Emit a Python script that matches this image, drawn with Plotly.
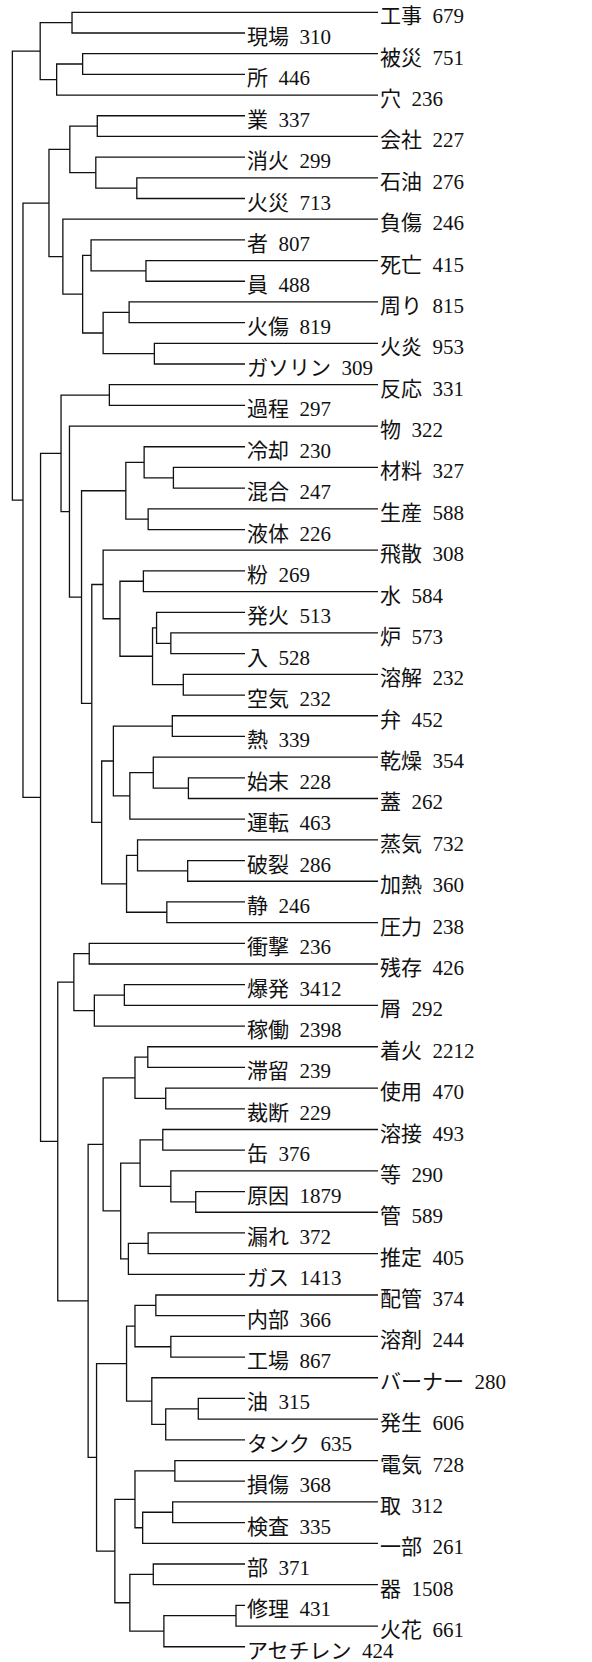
import plotly.graph_objects as go

# Leaf words (top to bottom) and their occurrence counts
words = [
    "工事", "現場", "被災", "所", "穴", "業", "会社", "消火", "石油", "火災",
    "負傷", "者", "死亡", "員", "周り", "火傷", "火炎", "ガソリン", "反応", "過程",
    "物", "冷却", "材料", "混合", "生産", "液体", "飛散", "粉", "水", "発火",
    "炉", "入", "溶解", "空気", "弁", "熱", "乾燥", "始末", "蓋", "運転",
    "蒸気", "破裂", "加熱", "静", "圧力", "衝撃", "残存", "爆発", "屑", "稼働",
    "着火", "滞留", "使用", "裁断", "溶接", "缶", "等", "原因", "管", "漏れ",
    "推定", "ガス", "配管", "内部", "溶剤", "工場", "バーナー", "油", "発生", "タンク",
    "電気", "損傷", "取", "検査", "一部", "部", "器", "修理", "火花", "アセチレン",
]
counts = [
    679, 310, 751, 446, 236, 337, 227, 299, 276, 713,
    246, 807, 415, 488, 815, 819, 953, 309, 331, 297,
    322, 230, 327, 247, 588, 226, 308, 269, 584, 513,
    573, 528, 232, 232, 452, 339, 354, 228, 262, 463,
    732, 286, 360, 246, 238, 236, 426, 3412, 292, 2398,
    2212, 239, 470, 229, 493, 376, 290, 1879, 589, 372,
    405, 1413, 374, 366, 244, 867, 280, 315, 606, 635,
    728, 368, 312, 335, 261, 371, 1508, 431, 661, 424,
]

# Linkage table: merge k joins merge_a[k] and merge_b[k] into node 80 + k
merge_a = [
    0, 2, 81, 80, 5, 8, 7, 84, 12, 11,
    14, 16, 90, 89, 10, 87, 18, 22, 21, 24,
    98, 27, 30, 29, 32, 103, 101, 26, 34, 37,
    36, 110, 108, 41, 40, 43, 114, 112, 107, 100,
    20, 96, 45, 47, 123, 122, 50, 52, 126, 54,
    57, 56, 129, 59, 133, 132, 128, 62, 64, 137,
    67, 140, 66, 139, 70, 72, 145, 144, 75, 77,
    149, 148, 147, 143, 136, 125, 121, 95, 83,
]
merge_b = [
    1, 3, 4, 82, 6, 9, 85, 86, 13, 88,
    15, 17, 91, 92, 93, 94, 19, 23, 97, 25,
    99, 28, 31, 102, 33, 104, 105, 106, 35, 38,
    109, 39, 111, 42, 113, 44, 115, 116, 117, 118,
    119, 120, 46, 48, 49, 124, 51, 53, 127, 55,
    58, 130, 131, 60, 61, 134, 135, 63, 65, 138,
    68, 69, 141, 142, 71, 73, 74, 146, 76, 78,
    79, 150, 151, 152, 153, 154, 155, 156, 157,
]
merge_height = [
    0.836, 0.807, 0.878, 0.923, 0.767, 0.659, 0.771, 0.842, 0.634, 0.784,
    0.680, 0.611, 0.751, 0.807, 0.861, 0.899, 0.734, 0.559, 0.639, 0.628,
    0.689, 0.641, 0.566, 0.605, 0.532, 0.616, 0.705, 0.751, 0.562, 0.518,
    0.614, 0.678, 0.723, 0.520, 0.657, 0.577, 0.687, 0.755, 0.782, 0.810,
    0.843, 0.866, 0.789, 0.693, 0.775, 0.831, 0.629, 0.580, 0.664, 0.588,
    0.498, 0.566, 0.650, 0.628, 0.682, 0.703, 0.751, 0.607, 0.566, 0.664,
    0.491, 0.580, 0.618, 0.687, 0.555, 0.561, 0.643, 0.664, 0.614, 0.388,
    0.585, 0.678, 0.719, 0.769, 0.792, 0.875, 0.922, 0.970, 0.999,
]

# Leaves alternate between two label columns so the labels do not collide
INNER_COLUMN = 0.3634
n = len(words)
node_x = {i: (0.0 if i % 2 == 0 else INNER_COLUMN) for i in range(n)}
node_y = {i: float(i) for i in range(n)}

xs, ys = [], []
for k, (a, b, h) in enumerate(zip(merge_a, merge_b, merge_height)):
    ya, yb = node_y[a], node_y[b]
    xs += [node_x[a], h, h, node_x[b], None]
    ys += [ya, ya, yb, yb, None]
    node_x[n + k] = h
    node_y[n + k] = (ya + yb) / 2

fig = go.Figure()
fig.add_trace(go.Scatter(
    x=xs, y=ys, mode="lines",
    line=dict(color="#111111", width=1.3),
    hoverinfo="skip", showlegend=False,
))

label_font = dict(family="Liberation Serif, Noto Sans CJK JP, serif", size=21, color="#111111")
for i, (w, c) in enumerate(zip(words, counts)):
    fig.add_annotation(
        x=node_x[i], y=i, text=f"{w}\u2002{c}",
        xanchor="left", yanchor="middle", showarrow=False,
        xshift=0, yshift=-4, font=label_font,
    )

fig.update_layout(
    width=592, height=1662,
    margin=dict(l=0, r=0, t=0, b=0),
    paper_bgcolor="white", plot_bgcolor="white",
    xaxis=dict(range=[378 / 366, (378 - 592) / 366], visible=False,
               showgrid=False, zeroline=False, fixedrange=True),
    yaxis=dict(range=[(1662 - 12.3) / 20.689, -12.3 / 20.689], visible=False,
               showgrid=False, zeroline=False, fixedrange=True),
)

fig.write_html("out.html")
